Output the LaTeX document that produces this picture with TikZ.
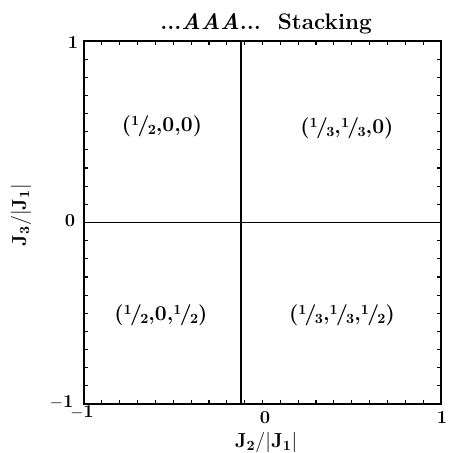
\documentclass[tikz,border=0pt]{standalone}
\usepackage{tikz}
\usetikzlibrary{positioning}
\newcommand{\slfrac}[2]{\raisebox{0.6ex}{\fontsize{10}{12}\selectfont #1}\kern-0.08em/\kern-0.08em\raisebox{-0.3ex}{\fontsize{10}{12}\selectfont #2}}

\begin{document}
\begin{tikzpicture}[
  x=4.4625cm, y=4.5375cm,
  region/.style={font=\fontsize{15}{18}\selectfont\bfseries},
  ticklbl/.style={font=\fontsize{13}{15}\selectfont\bfseries, inner sep=0pt},
  axlbl/.style={font=\fontsize{14}{16}\selectfont, inner sep=0pt},
  frame/.style={line width=1.2pt},
  tick/.style={line width=0.8pt},
]
  \useasboundingbox (-6.5625cm,-5.7625cm) rectangle ++(11.2cm,11.325cm);

  % ticks every 0.1
  \foreach \i in {1,...,19} {
    \draw[tick] (-1+\i/10,-1) -- ++(0,0.1cm);
    \draw[tick] (-1+\i/10,1) -- ++(0,-0.1cm);
    \draw[tick] (-1,-1+\i/10) -- ++(0.1cm,0);
    \draw[tick] (1,-1+\i/10) -- ++(-0.1cm,0);
  }
  \draw[frame] (-1,-1) rectangle (1,1);

  % phase boundaries
  \draw[frame, line width=1.4pt] (-1,0) -- (1,0);
  \draw[frame] (-0.12,-1) -- (-0.12,1);

  \node[region] (ul) at (-0.563,0.532) {(\slfrac{1}{2},0,0)};
  \node[region] (ur) at (0.473,0.521) {(\slfrac{1}{3},\slfrac{1}{3},0)};
  \node[region] (ll) at (-0.569,-0.51) {(\slfrac{1}{2},0,\slfrac{1}{2})};
  \node[region] (lr) at (0.445,-0.51) {(\slfrac{1}{3},\slfrac{1}{3},\slfrac{1}{2})};

  \node[font=\fontsize{16}{19}\selectfont\bfseries] (title) at (0.02,1.094) {...\textit{AAA}...\ \ Stacking};

  % tick labels
  \node[ticklbl] (y1) at (-1.062,0.994) {1};
  \node[ticklbl] (y0) at (-1.078,0.008) {0};
  \node[ticklbl] (ym1) at (-1.125,-0.99) {$-$1};
  \node[ticklbl] (xm1) at (-1.011,-1.045) {$-$1};
  \node[ticklbl] (x0) at (0.014,-1.077) {0};
  \node[ticklbl] (x1) at (1.006,-1.077) {1};

  \node[axlbl] (xlab) at (0.02,-1.21) {$\mathbf{J_2/|J_1|}$};
  \node[axlbl, rotate=90] (ylab) at (-1.353,0.041) {$\mathbf{J_3/|J_1|}$};
\end{tikzpicture}
\end{document}
